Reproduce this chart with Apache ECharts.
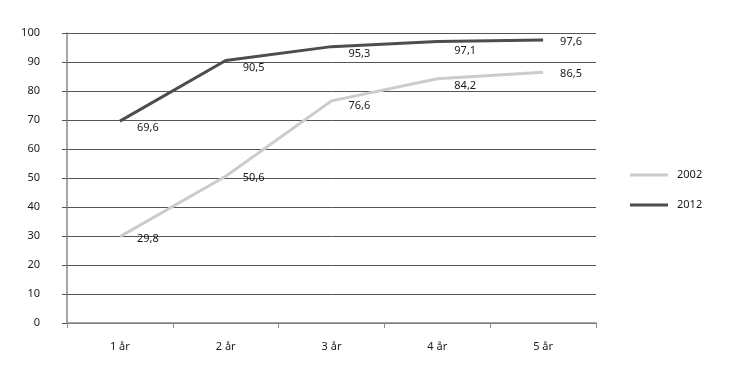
<!DOCTYPE html>
<html><head><meta charset="utf-8">
<script src="https://cdn.jsdelivr.net/npm/echarts@6/dist/echarts.min.js"></script>
<style>html,body{margin:0;padding:0;background:#fff}#c{width:730px;height:367px}</style>
</head><body><div id="c"></div>
<script>
const categories = ['1 år','2 år','3 år','4 år','5 år'];
const values2002 = [29.8, 50.6, 76.6, 84.2, 86.5];
const values2012 = [69.6, 90.5, 95.3, 97.1, 97.6];
const yTicks = [0,10,20,30,40,50,60,70,80,90,100];

// label vertical nudges (styling only)
const nudge2002 = [2, 2, 5, 7.5, 2];
const nudge2012 = [6.5, 7, 7.7, 9, 1.5];

const FONT = 'Noto Sans';
function build(vals, nudges){
  return vals.map((v,i)=>({value:v, label:{offset:[0, nudges[i]]}}));
}
const fmt = p => String(p.value).replace('.', ',');

const chart = echarts.init(document.getElementById('c'), null, {renderer:'canvas'});
chart.setOption({
  animation:false,
  grid:{left:67, right:134, top:33, bottom:44, containLabel:false},
  xAxis:{type:'category', data:categories, boundaryGap:true,
    axisLine:{lineStyle:{color:'#8a8a8a', width:1.5}},
    axisTick:{show:true, length:5, alignWithLabel:false, lineStyle:{color:'#8a8a8a'}},
    axisLabel:{color:'#1a1a1a', fontFamily:FONT, fontSize:11, margin:18},
    splitLine:{show:false}},
  yAxis:{type:'value', min:yTicks[0], max:yTicks[yTicks.length-1], interval:10,
    axisLine:{show:true, lineStyle:{color:'#8a8a8a', width:1.5}},
    axisTick:{show:true, length:5, lineStyle:{color:'#555'}},
    axisLabel:{color:'#1a1a1a', fontFamily:FONT, fontSize:11, margin:27},
    splitLine:{show:true, lineStyle:{color:'#555', width:1}}},
  legend:{orient:'vertical', left:625, top:163, itemWidth:38, itemHeight:3, itemGap:16,
    icon:'rect',
    textStyle:{fontFamily:FONT, fontSize:11, color:'#1a1a1a', padding:[0,0,0,4], lineHeight:14},
    data:['2002','2012']},
  series:[
    {name:'2002', type:'line', data:build(values2002, nudge2002), symbol:'circle', symbolSize:0.01, showSymbol:true,
     lineStyle:{color:'#cccccc', width:3}, itemStyle:{color:'#cccccc'},
     label:{show:true, position:'right', distance:17, formatter:fmt, color:'#1a1a1a', fontFamily:FONT, fontSize:11}},
    {name:'2012', type:'line', data:build(values2012, nudge2012), symbol:'circle', symbolSize:0.01, showSymbol:true,
     lineStyle:{color:'#4d4d4d', width:3}, itemStyle:{color:'#4d4d4d'},
     label:{show:true, position:'right', distance:17, formatter:fmt, color:'#1a1a1a', fontFamily:FONT, fontSize:11}}
  ]
});
</script></body></html>
